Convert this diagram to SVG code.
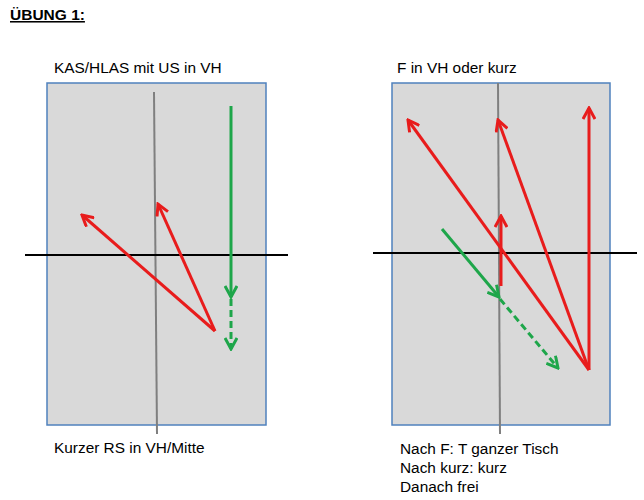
<svg xmlns="http://www.w3.org/2000/svg" width="644" height="500" viewBox="0 0 644 500">
<style>
text{font-family:"Liberation Sans",Arial,sans-serif;font-size:15.4px;fill:#000}
.tbl{fill:#d9d9d9;stroke:#4f81bd;stroke-width:1.5}
.ax{stroke:#7f7f7f;stroke-width:2}
.hz{stroke:#000;stroke-width:2}
.r{stroke:#e81c1c;stroke-width:3;fill:none}
.g{stroke:#1ea64a;stroke-width:3;fill:none}
.d{stroke-dasharray:7,4}
</style>
<defs>
<marker id="ar" viewBox="0 0 14 14" refX="12" refY="7" markerWidth="14" markerHeight="14" markerUnits="userSpaceOnUse" orient="auto">
<polyline points="1,1 12,7 1,13" fill="none" stroke="#e81c1c" stroke-width="3"/>
</marker>
<marker id="ag" viewBox="0 0 14 14" refX="12" refY="7" markerWidth="14" markerHeight="14" markerUnits="userSpaceOnUse" orient="auto">
<polyline points="1,1 12,7 1,13" fill="none" stroke="#1ea64a" stroke-width="3"/>
</marker>
</defs>
<text x="10" y="20" style="font-weight:bold;font-size:15.5px;text-decoration:underline">ÜBUNG 1:</text>
<g id="table1">
<rect class="tbl" x="47" y="83" width="219" height="342"/>
<line class="ax" x1="154" y1="92" x2="157" y2="434"/>
<line class="hz" x1="25" y1="255" x2="288" y2="255"/>
<text x="54" y="73">KAS/HLAS mit US in VH</text>
<text x="54" y="453">Kurzer RS in VH/Mitte</text>
</g>
<g id="table2">
<rect class="tbl" x="392" y="83" width="218" height="342"/>
<line class="ax" x1="498" y1="83" x2="500" y2="434"/>
<line class="hz" x1="373" y1="253" x2="637" y2="253"/>
<text x="397" y="73">F in VH oder kurz</text>
<text x="400" y="454">Nach F: T ganzer Tisch</text>
<text x="400" y="473">Nach kurz: kurz</text>
<text x="400" y="492">Danach frei</text>
</g>
<g id="connectors">
<line class="g" x1="231" y1="106" x2="231" y2="297" marker-end="url(#ag)"/>
<line class="g d" x1="231" y1="299" x2="231" y2="349" marker-end="url(#ag)"/>
<line class="r" x1="215" y1="331" x2="82" y2="215" marker-end="url(#ar)"/>
<line class="r" x1="215" y1="331" x2="158" y2="204" marker-end="url(#ar)"/>
<line class="r" x1="589" y1="370" x2="408" y2="120" marker-end="url(#ar)"/>
<line class="r" x1="589" y1="370" x2="498" y2="120" marker-end="url(#ar)"/>
<line class="r" x1="589" y1="370" x2="589" y2="108" marker-end="url(#ar)"/>
<line class="r" x1="501" y1="286" x2="501" y2="216" marker-end="url(#ar)"/>
<line class="g" x1="442" y1="229" x2="499" y2="297" marker-end="url(#ag)"/>
<line class="g d" x1="500" y1="299" x2="558" y2="368" marker-end="url(#ag)"/>
</g>
</svg>
